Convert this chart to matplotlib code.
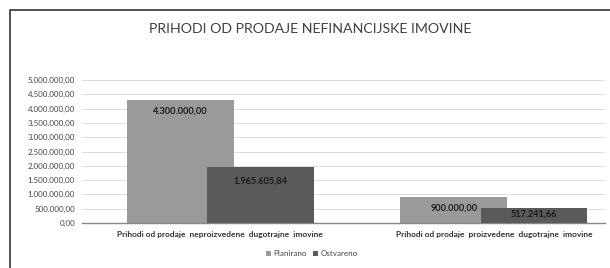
import numpy as np
import matplotlib.pyplot as plt
from matplotlib.lines import Line2D

categories = ['Prihodi od prodaje  neproizvedene  dugotrajne  imovine',
              'Prihodi od prodaje  proizvedene  dugotrajne  imovine']
planirano = [4300000.00, 900000.00]
ostvareno = [1965605.84, 517241.66]
series_names = ['Planirano', 'Ostvareno']
yticks = np.arange(0, 5000001, 500000)


def fmt(v):
    s = f"{v:,.2f}"
    return s.replace(',', 'X').replace('.', ',').replace('X', '.')


def main():
    plt.rcParams['font.family'] = ['Lato', 'DejaVu Sans']
    fig = plt.figure(figsize=(6.1, 2.68), dpi=100)
    # frame of the original chart box (left and top edges visible)
    fx, fy = 10 / 610, 1 - 10 / 268
    fig.lines.append(Line2D([fx, fx, 1.0], [0.0, fy, fy], transform=fig.transFigure,
                            color='#333333', linewidth=1.2))
    ax = fig.add_axes([82 / 610, 1 - 223 / 268, (605 - 82) / 610, (223 - 80) / 268])

    x = np.arange(len(categories))
    w = 0.39
    off = 0.147
    c_plan = '#9a9a9a'
    c_ostv = '#5a5a5a'
    ax.bar(x - off, planirano, w, color=c_plan, label=series_names[0], zorder=2)
    ax.bar(x + off, ostvareno, w, color=c_ostv, label=series_names[1], zorder=3)

    for xi, v in zip(x - off, planirano):
        ax.text(xi, v - 380000, fmt(v), ha='center', va='center', fontsize=6.6,
                fontweight='bold', color='#1a1a1a', zorder=4)
    for xi, v in zip(x + off, ostvareno):
        dy = 500000 if v > 1000000 else 210000
        ax.text(xi, v - dy, fmt(v), ha='center', va='center', fontsize=6.6,
                fontweight='bold', color='#1a1a1a', zorder=4)

    ax.set_ylim(0, 5000000)
    ax.set_xlim(-0.506, 1.406)
    ax.set_yticks(yticks)
    ax.set_yticklabels([fmt(t) for t in yticks], fontsize=5.8, color='#444444')
    ax.set_xticks(x)
    ax.set_xticklabels(categories, fontsize=6, color='#333333', fontweight='bold')
    ax.tick_params(length=0, pad=5)
    ax.tick_params(axis='x', pad=6)
    ax.grid(axis='y', color='#dddddd', linewidth=0.7, zorder=0)
    for s in ['top', 'right', 'left']:
        ax.spines[s].set_visible(False)
    ax.spines['bottom'].set_color('#888888')
    ax.spines['bottom'].set_linewidth(1)

    fig.text(310 / 610, 1 - 29 / 268, 'PRIHODI OD PRODAJE NEFINANCIJSKE IMOVINE',
             ha='center', va='center', fontsize=10.2, color='#404040')

    fig.legend(loc='center', bbox_to_anchor=(312 / 610, 1 - 254 / 268), ncol=2,
               frameon=False, fontsize=5.8, handlelength=0.6, handleheight=0.6,
               handletextpad=0.3, columnspacing=0.8, labelcolor='#444444')

    plt.savefig('out.png', dpi=100)


if __name__ == '__main__':
    main()
